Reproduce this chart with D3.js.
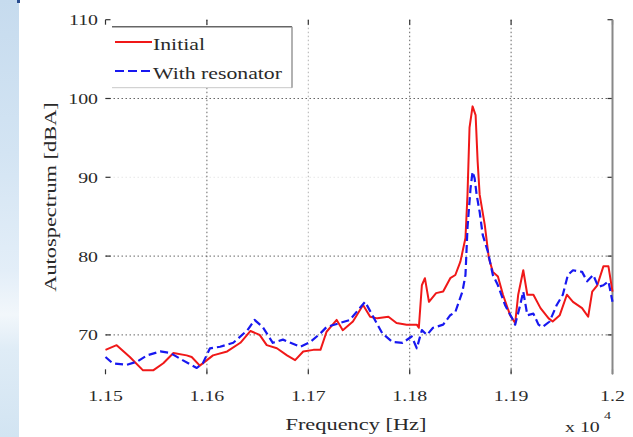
<!DOCTYPE html>
<html><head><meta charset="utf-8">
<script src="https://cdn.jsdelivr.net/npm/d3@7/dist/d3.min.js"></script>
<style>
html,body{margin:0;padding:0;background:#fff;}
svg{display:block;}
text{font-family:"Liberation Serif","Times New Roman",serif;fill:#2a2a2a;}
</style></head>
<body>
<svg id="chart" width="633" height="437"></svg>
<script>
// ---- data (frequency in Hz, autospectrum in dBA) ----
const initialFreq = [11500,11511,11524,11537,11547,11557,11567,11580,11585,11593,11600,11606,11620,11633,11643,11652,11659,11669,11679,11687,11695,11705,11712,11718,11728,11734,11744,11754,11761,11768,11779,11787,11797,11807,11809,11812,11815,11819,11826,11833,11840,11845,11850,11855,11857,11859,11862,11865,11867,11869,11874,11878,11882,11887,11892,11899,11904,11907,11912,11916,11922,11929,11937,11941,11948,11955,11961,11970,11976,11980,11985,11991,11996,12000];
const initialVal = [68.1,68.7,67.2,65.5,65.5,66.4,67.7,67.4,67.2,66.1,66.8,67.4,67.9,69.0,70.5,70.0,68.7,68.3,67.4,66.8,67.9,68.1,68.1,70.4,71.9,70.6,71.7,73.8,72.3,72.1,72.3,71.5,71.3,71.3,70.9,76.3,77.2,74.2,75.3,75.5,77.2,77.6,79.3,82.3,87.8,96.3,99.0,97.9,92.0,87.8,84.0,79.8,78.0,77.4,75.1,72.5,71.5,75.1,78.2,75.1,75.1,73.4,72.1,71.7,72.5,75.1,74.2,73.4,72.3,75.5,76.3,78.7,78.7,75.5];

const resonFreq = [11500,11507,11521,11531,11541,11554,11564,11576,11590,11596,11603,11613,11626,11640,11647,11655,11665,11675,11692,11702,11712,11718,11731,11741,11756,11764,11773,11783,11793,11802,11807,11812,11817,11823,11833,11840,11845,11852,11855,11857,11860,11862,11864,11866,11869,11872,11877,11882,11887,11894,11901,11904,11909,11912,11916,11922,11927,11931,11938,11945,11951,11956,11961,11970,11975,11981,11986,11991,11996,12000];
const resonVal = [67.2,66.4,66.2,66.6,67.4,67.9,67.7,66.8,65.8,66.4,68.3,68.5,69.0,70.6,71.9,71.0,69.0,69.4,68.5,69.1,70.2,71.0,71.5,71.9,74.2,72.3,70.2,69.1,69.0,69.8,68.3,70.6,70.0,70.9,71.3,72.5,72.9,75.5,77.6,83.6,88.6,90.7,89.9,87.8,85.6,82.7,80.6,77.6,76.3,73.8,72.1,71.3,73.8,75.5,72.5,72.7,71.3,71.0,71.7,73.8,75.1,77.6,78.2,78.0,76.8,77.6,76.1,76.3,76.8,74.2];

const xTicks = [11500,11600,11700,11800,11900,12000];
const xTickLabels = ["1.15","1.16","1.17","1.18","1.19","1.2"];
const yTicks = [70,80,90,100,110];
const yTickLabels = ["70","80","90","100","110"];
const seriesNames = ["Initial","With resonator"];

// ---- layout ----
const svg = d3.select("#chart");
const x = d3.scaleLinear().domain([11500,12000]).range([105.5,612.5]);
const y = d3.scaleLinear().domain([65,110]).range([374.3,19.7]);
const SX = 1.28; // horizontal stretch for wide serif look

// left decorative strip
const defs = svg.append("defs");
const g = defs.append("linearGradient").attr("id","strip").attr("x1",0).attr("y1",0).attr("x2",0).attr("y2",1);
[[0,"#c6dbee"],[0.35,"#d3e4f3"],[0.62,"#e3eef8"],[0.72,"#f2f7fb"],[0.8,"#dfecf6"],[1,"#d2e4f2"]].forEach(s=>g.append("stop").attr("offset",s[0]).attr("stop-color",s[1]));
svg.append("rect").attr("x",0).attr("y",0).attr("width",19).attr("height",437).attr("fill","url(#strip)");
svg.append("rect").attr("x",17).attr("y",0).attr("width",3).attr("height",3).attr("fill","#2a4d8f");

// grid
const gridOpacity = {70:1,80:1,90:0.15,100:1};
svg.append("g").selectAll("line").data(yTicks.filter(d=>d<110)).join("line")
  .attr("x1",x.range()[0]).attr("x2",x.range()[1])
  .attr("y1",d=>y(d)).attr("y2",d=>y(d))
  .attr("stroke","#666").attr("stroke-width",1).attr("stroke-dasharray","1.5,2.5")
  .attr("opacity",d=>gridOpacity[d]);
svg.append("g").selectAll("line").data(xTicks.slice(1,-1)).join("line")
  .attr("x1",d=>x(d)).attr("x2",d=>x(d))
  .attr("y1",y.range()[1]).attr("y2",y.range()[0])
  .attr("stroke","#555").attr("stroke-width",1).attr("stroke-dasharray","1.5,2.5")
  .attr("opacity",d=>d===11700?0.45:0.9);

// tick marks (inward)
const tk = svg.append("g").attr("stroke","#333").attr("stroke-width",1.2);
xTicks.forEach(t=>{
  tk.append("line").attr("x1",x(t)).attr("x2",x(t)).attr("y1",y.range()[0]).attr("y2",y.range()[0]-5);
  tk.append("line").attr("x1",x(t)).attr("x2",x(t)).attr("y1",y.range()[1]).attr("y2",y.range()[1]+5);
});
yTicks.forEach(t=>{
  tk.append("line").attr("x1",x.range()[0]).attr("x2",x.range()[0]+5).attr("y1",y(t)).attr("y2",y(t));
  tk.append("line").attr("x1",x.range()[1]).attr("x2",x.range()[1]-5).attr("y1",y(t)).attr("y2",y(t));
});

// right spine
svg.append("line").attr("x1",x.range()[1]).attr("x2",x.range()[1])
  .attr("y1",y.range()[1]).attr("y2",y.range()[0]).attr("stroke","#888").attr("stroke-width",2);

// lines
const line = d3.line().x(d=>x(d[0])).y(d=>y(d[1]));
const initialData = initialFreq.map((f,i)=>[f,initialVal[i]]);
const resonData = resonFreq.map((f,i)=>[f,resonVal[i]]);
svg.append("path").datum(initialData).attr("d",line).attr("fill","none")
  .attr("stroke","#f01818").attr("stroke-width",2).attr("stroke-linejoin","round");
svg.append("path").datum(resonData).attr("d",line).attr("fill","none")
  .attr("stroke","#1818f0").attr("stroke-width",2.2).attr("stroke-dasharray","8,4").attr("stroke-linejoin","round");

// stretched text helper
function stext(parent, tx, ty, str, size, anchor, rot){
  const t = parent.append("text")
    .attr("transform",`translate(${tx},${ty})` + (rot?` rotate(${rot})`:"") + ` scale(${SX},1)`)
    .attr("font-size",size).attr("text-anchor",anchor||"start").text(str);
  return t;
}

// tick labels
xTicks.forEach((t,i)=>stext(svg, x(t), 401, xTickLabels[i], 15.5, "middle"));
yTicks.forEach((t,i)=>stext(svg, 98, y(t)+5.5, yTickLabels[i], 15.5, "end"));

// axis titles
stext(svg, 356, 430, "Frequency [Hz]", 17.5, "middle");
stext(svg, 56, 197, "Autospectrum [dBA]", 17.5, "middle", -90);
stext(svg, 565, 432, "x 10", 15.5, "start");
stext(svg, 604, 419, "4", 11, "start");

// legend
const lg = svg.append("g");
const L = {x0:112, x1:292, y0:26.7, y1:87.7};
lg.append("rect").attr("x",L.x0).attr("y",L.y0).attr("width",L.x1-L.x0).attr("height",L.y1-L.y0).attr("fill","#fff");
lg.append("line").attr("x1",L.x0).attr("x2",L.x1).attr("y1",L.y1).attr("y2",L.y1).attr("stroke","#c8c8c8").attr("stroke-width",1);
lg.append("line").attr("x1",L.x0).attr("x2",L.x1).attr("y1",L.y0).attr("y2",L.y0).attr("stroke","#666").attr("stroke-width",1.5);
lg.append("line").attr("x1",L.x1).attr("x2",L.x1).attr("y1",L.y0).attr("y2",L.y1).attr("stroke","#999").attr("stroke-width",1.5);
lg.append("line").attr("x1",115).attr("x2",152).attr("y1",42).attr("y2",42).attr("stroke","#f01818").attr("stroke-width",2);
lg.append("line").attr("x1",115).attr("x2",152).attr("y1",71).attr("y2",71).attr("stroke","#1818f0").attr("stroke-width",2.2).attr("stroke-dasharray","9,4");
stext(lg, 153, 50, seriesNames[0], 17, "start");
stext(lg, 153, 79, seriesNames[1], 17, "start");
</script>
</body></html>
